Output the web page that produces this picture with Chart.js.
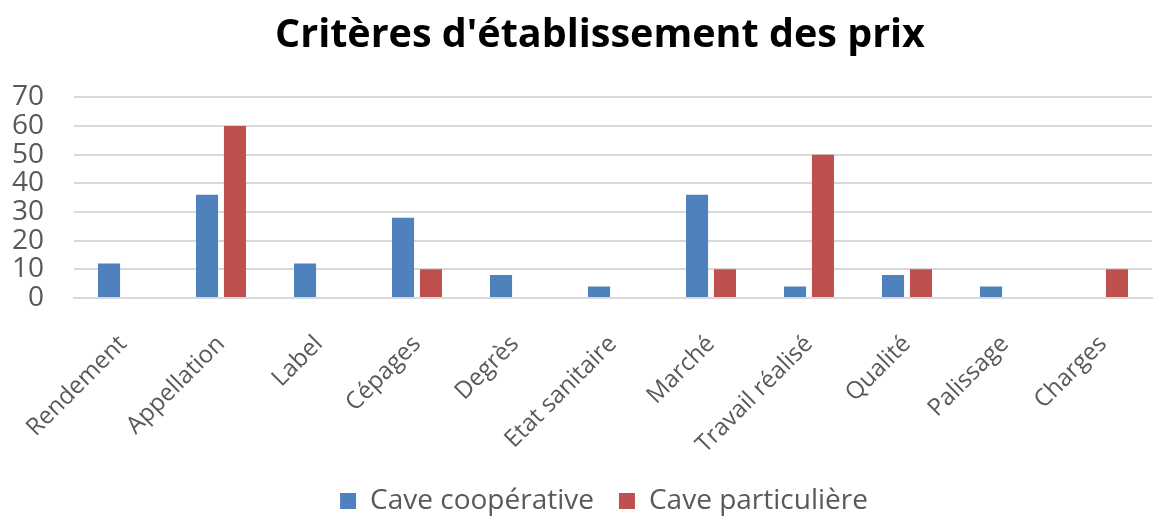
<!DOCTYPE html>
<html>
<head>
<meta charset="utf-8">
<script src="https://cdn.jsdelivr.net/npm/chart.js@4"></script>
<style>
  html, body { margin: 0; padding: 0; background: #fff; }
  #wrap { width: 1164px; height: 518px; }
</style>
</head>
<body>
<div id="wrap"><canvas id="chart" width="1164" height="518"></canvas></div>
<script>
const CATEGORIES = ['Rendement', 'Appellation', 'Label', 'Cépages', 'Degrès', 'Etat sanitaire',
    'Marché', 'Travail réalisé', 'Qualité', 'Palissage', 'Charges'];
const COOPERATIVE = [12, 36, 12, 28, 8, 4, 36, 4, 8, 4, 0];
const PARTICULIERE = [0, 60, 0, 10, 0, 0, 10, 50, 10, 0, 10];
const Y_TICKS = [0, 10, 20, 30, 40, 50, 60, 70];

const COLORS = {
    blue: '#4f81bd',
    red: '#c0504d',
    text: '#595959',
    grid: '#d9d9d9'
};

const FONT = "'Open Sans', sans-serif";

// nudge title and legend sideways, the original centres them a bit right of the canvas middle
const shiftBoxes = {
    id: 'shiftBoxes',
    afterLayout(chart) {
        const move = (box, dx) => {
            if (!box) return;
            box.left += dx;
            box.right += dx;
        };
        move(chart.titleBlock, 18);
        move(chart.legend, 22);
    }
};

new Chart(document.getElementById('chart'), {
    type: 'bar',
    data: {
        labels: CATEGORIES,
        datasets: [{
            label: 'Cave coopérative',
            data: COOPERATIVE,
            backgroundColor: COLORS.blue,
            categoryPercentage: 0.57,
            barPercentage: 0.79
        }, {
            label: 'Cave particulière',
            data: PARTICULIERE,
            backgroundColor: COLORS.red,
            categoryPercentage: 0.57,
            barPercentage: 0.79
        }]
    },
    plugins: [shiftBoxes],
    options: {
        responsive: false,
        animation: false,
        layout: { padding: { left: 12, right: 12, top: 8, bottom: -7 } },
        plugins: {
            title: {
                display: true,
                text: "Critères d'établissement des prix",
                color: '#000',
                font: { family: FONT, size: 39.5, weight: 'bold' },
                padding: { top: 4, bottom: 38 }
            },
            legend: {
                position: 'bottom',
                labels: {
                    color: COLORS.text,
                    font: { family: FONT, size: 28 },
                    boxWidth: 16,
                    boxHeight: 16,
                    padding: 25
                }
            },
            tooltip: { enabled: false }
        },
        scales: {
            x: {
                grid: { display: false },
                border: { color: COLORS.grid, width: 2 },
                afterFit: axis => {
                    axis.height = 164;
                    // rotated labels fit in the canvas anyway, don't let them push the plot right
                    axis.paddingLeft = 0;
                    axis.paddingRight = 0;
                },
                ticks: {
                    color: COLORS.text,
                    font: { family: FONT, size: 24 },
                    minRotation: 45,
                    maxRotation: 45,
                    autoSkip: false,
                    padding: 24
                }
            },
            y: {
                min: 0,
                max: 70,
                afterBuildTicks: axis => { axis.ticks = Y_TICKS.map(v => ({ value: v })); },
                afterFit: axis => { axis.width = 62; },
                grid: { color: COLORS.grid, lineWidth: 2, drawTicks: false },
                border: { display: false },
                ticks: {
                    color: COLORS.text,
                    font: { family: FONT, size: 28 },
                    padding: 30,
                    autoSkip: false
                }
            }
        }
    }
});
</script>
</body>
</html>
